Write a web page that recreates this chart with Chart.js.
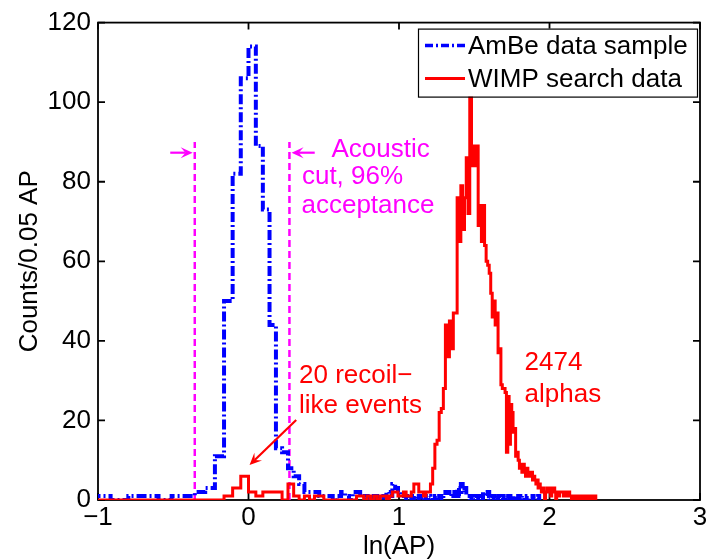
<!DOCTYPE html>
<html>
<head>
<meta charset="utf-8">
<script src="https://cdn.jsdelivr.net/npm/chart.js@4.4.1/dist/chart.umd.min.js"></script>
<style>
  html, body { margin: 0; padding: 0; background: #fff; }
  #wrap { width: 712px; height: 560px; }
</style>
</head>
<body>
<div id="wrap"><canvas id="chart"></canvas></div>
<script>
// histograms use bins 0.05 wide in AP, drawn against ln(AP)
const binAP = 0.05;

// AmBe data sample, counts per bin starting at bin 7 (AP 0.35)
const ambeFirstBin = 7;
const ambeCounts = [
  1, 0, 1, 1, 0, 1, 1,
  2, 3, 11, 50, 82, 106, 114, 89, 73, 44, 13, 12,
  8, 6, 4, 2, 2, 2, 1, 1, 1,
  0, 1, 2, 1, 0, 2, 2, 1, 0, 1, 0, 1, 0, 0, 1, 2, 1, 4, 3, 2, 1, 1,
  0, 1, 0, 1, 0, 1, 0, 1, 0, 1, 0, 0, 1, 0, 1, 0, 1, 2, 2, 1, 2, 2, 1, 3, 1, 4, 2, 3, 1, 1,
  0, 1, 0, 1, 1, 0, 1, 0, 2, 1, 1, 2, 0, 1, 1, 0, 1, 0, 1, 1, 0, 1, 0, 1, 1, 0, 1, 0, 1, 0, 0, 1, 0, 1,
  0, 0, 1, 0, 0, 0, 1, 0, 0, 0, 0, 1, 0, 0, 0, 0, 1, 0
];

// WIMP search data, counts per bin starting at bin 7
const wimpFirstBin = 7;
const wimpCounts = [
  0, 0, 0, 0, 0, 0, 0, 0, 0, 0,
  1, 3, 6, 2, 1, 2, 2, 2, 0, 4,
  1, 0, 1, 0, 1, 1, 0, 0, 0, 0, 0, 0, 0, 0,
  1, 1, 0, 1, 0, 1, 0, 1, 1, 0, 1, 2, 2, 1, 1, 2, 1, 1, 2, 4, 4, 2, 2, 1, 2, 2,
  4, 8, 14, 15, 22, 23, 28, 44, 36, 45, 38, 47, 47,
  76, 65, 79, 68, 76, 86, 72, 106, 84, 89, 84, 89, 69, 74, 65, 74, 64, 60, 59, 57, 52,
  46, 50, 44, 47, 37, 38, 29, 28, 28, 27, 12, 26, 14, 24, 22, 17, 18, 11, 12, 10,
  8, 9, 7, 9, 8, 6, 8, 7, 6, 6, 7, 5, 6, 5, 4, 5, 3, 4, 3,
  2, 3, 2, 0, 2, 3, 2, 2, 3, 1, 2, 2, 3, 2, 0, 2, 2, 1, 2, 2, 2, 2, 1, 2, 2, 1, 2, 1, 2,
  1, 1, 0, 1, 1, 1, 0, 1, 1, 0, 1, 1, 1, 0, 0, 1, 1, 0, 1, 1, 0, 1, 1, 0, 0, 1, 1, 0, 1, 1, 0, 1
];

// acoustic cut edges in ln(AP) and height of the marker lines
const cutEdges = [-0.357, 0.272];
const cutTop = 90;

const xTicks = [-1, 0, 1, 2, 3];
const yTicks = [0, 20, 40, 60, 80, 100, 120];

const FONT = '"Liberation Sans", Arial, sans-serif';

function toSteps(first, counts) {
  const pts = counts.map((c, i) => ({ x: Math.log((first + i) * binAP), y: c }));
  pts.push({ x: Math.log((first + counts.length) * binAP), y: 0 });
  return pts;
}

function arrow(ctx, x0, y0, x1, y1, color) {
  const ang = Math.atan2(y1 - y0, x1 - x0);
  const len = 12, half = 5.5;
  ctx.strokeStyle = color;
  ctx.fillStyle = color;
  ctx.lineWidth = 2.2;
  ctx.beginPath();
  ctx.moveTo(x0, y0);
  ctx.lineTo(x1 - Math.cos(ang) * len * 0.6, y1 - Math.sin(ang) * len * 0.6);
  ctx.stroke();
  ctx.save();
  ctx.translate(x1, y1);
  ctx.rotate(ang);
  ctx.beginPath();
  ctx.moveTo(0, 0);
  ctx.lineTo(-len, -half);
  ctx.lineTo(-len * 0.6, 0);
  ctx.lineTo(-len, half);
  ctx.closePath();
  ctx.fill();
  ctx.restore();
}

// box with inward ticks on all four sides, drawn under the data
const framePlugin = {
  id: 'frame',
  beforeDatasetsDraw(chart) {
    const { ctx, chartArea: a, scales: { x, y } } = chart;
    ctx.save();
    ctx.strokeStyle = '#000';
    ctx.lineWidth = 1.8;
    ctx.strokeRect(a.left, a.top, a.right - a.left, a.bottom - a.top);
    ctx.beginPath();
    xTicks.forEach(v => {
      const px = x.getPixelForValue(v);
      ctx.moveTo(px, a.bottom); ctx.lineTo(px, a.bottom - 7);
      ctx.moveTo(px, a.top); ctx.lineTo(px, a.top + 7);
    });
    yTicks.forEach(v => {
      const py = y.getPixelForValue(v);
      ctx.moveTo(a.left, py); ctx.lineTo(a.left + 7, py);
      ctx.moveTo(a.right, py); ctx.lineTo(a.right - 7, py);
    });
    ctx.stroke();
    ctx.restore();
  }
};

// annotations and legend on top of the data
const notesPlugin = {
  id: 'notes',
  afterDatasetsDraw(chart) {
    const { ctx, chartArea: a, scales: { x, y } } = chart;
    const X = v => x.getPixelForValue(v);
    const Y = v => y.getPixelForValue(v);
    ctx.save();

    // cut arrows
    arrow(ctx, X(-0.52), Y(87.3), X(-0.371), Y(87.3), '#ff00ff');
    arrow(ctx, X(0.44), Y(87.3), X(0.286), Y(87.3), '#ff00ff');
    // recoil arrow
    arrow(ctx, X(0.317), Y(20.1), X(0.007), Y(8.8), '#ff0000');

    ctx.font = '26px ' + FONT;
    ctx.textAlign = 'left';
    ctx.textBaseline = 'alphabetic';
    ctx.fillStyle = '#ff00ff';
    ctx.fillText('Acoustic', X(0.551), Y(86.3));
    ctx.fillText('cut, 96%', X(0.355), Y(79.5));
    ctx.fillText('acceptance', X(0.352), Y(72.1));
    ctx.fillStyle = '#ff0000';
    ctx.fillText('20 recoil\u2212', X(0.336), Y(29.5));
    ctx.fillText('like events', X(0.336), Y(21.9));
    ctx.fillText('2474', X(1.834), Y(32.7));
    ctx.fillText('alphas', X(1.834), Y(24.7));

    // legend box
    const bx = a.right - 282, by = a.top + 6, bw = 279, bh = 68;
    ctx.fillStyle = '#fff';
    ctx.fillRect(bx, by, bw, bh);
    ctx.strokeStyle = '#000';
    ctx.lineWidth = 1.2;
    ctx.strokeRect(bx + 0.5, by + 0.5, bw, bh);
    ctx.lineWidth = 3.5;
    ctx.strokeStyle = '#0000ff';
    ctx.setLineDash([8, 3, 2, 3]);
    ctx.beginPath(); ctx.moveTo(bx + 7, by + 17); ctx.lineTo(bx + 47, by + 17); ctx.stroke();
    ctx.setLineDash([]);
    ctx.lineWidth = 3;
    ctx.strokeStyle = '#ff0000';
    ctx.beginPath(); ctx.moveTo(bx + 7, by + 50); ctx.lineTo(bx + 47, by + 50); ctx.stroke();
    ctx.fillStyle = '#000';
    ctx.textBaseline = 'middle';
    ctx.fillText('AmBe data sample', bx + 50, by + 18);
    ctx.fillText('WIMP search data', bx + 50, by + 51);
    ctx.restore();
  }
};

Chart.defaults.font.family = FONT;
Chart.defaults.font.size = 26;
Chart.defaults.color = '#000';

new Chart(document.getElementById('chart'), {
  type: 'line',
  data: {
    datasets: [
      {
        label: 'WIMP search data',
        data: toSteps(wimpFirstBin, wimpCounts),
        borderColor: '#ff0000',
        borderWidth: 3,
        stepped: true,
        pointRadius: 0,
        fill: false
      },
      {
        label: 'AmBe data sample',
        data: toSteps(ambeFirstBin, ambeCounts),
        borderColor: '#0000ff',
        borderWidth: 4,
        borderDash: [10, 3, 2, 3],
        stepped: true,
        pointRadius: 0,
        fill: false
      },
      ...cutEdges.map(c => ({
        label: 'cut',
        data: [{ x: c, y: 0 }, { x: c, y: cutTop }],
        borderColor: '#ff00ff',
        borderWidth: 2.5,
        borderDash: [7, 4],
        pointRadius: 0,
        fill: false
      }))
    ]
  },
  options: {
    responsive: true,
    maintainAspectRatio: false,
    animation: false,
    layout: { padding: { left: 0, top: 22, right: 12, bottom: 0 } },
    plugins: {
      legend: { display: false },
      tooltip: { enabled: false }
    },
    scales: {
      x: {
        type: 'linear',
        min: -1,
        max: 3,
        grid: { display: false, drawTicks: false },
        border: { display: false },
        afterBuildTicks: s => { s.ticks = xTicks.map(v => ({ value: v })); },
        afterFit: s => { s.height = 60; },
        ticks: {
          padding: 2,
          maxRotation: 0,
          callback: v => String(v).replace('-', '\u2212')
        },
        title: {
          display: true,
          text: 'ln(AP)',
          font: { size: 26, lineHeight: 1 },
          padding: { top: 0, bottom: 0 }
        }
      },
      y: {
        min: 0,
        max: 120,
        grid: { display: false, drawTicks: false },
        border: { display: false },
        afterBuildTicks: s => { s.ticks = yTicks.map(v => ({ value: v })); },
        afterFit: s => { s.width = 98; },
        ticks: { padding: 7 },
        title: {
          display: true,
          text: 'Counts/0.05 AP',
          font: { size: 26 },
          padding: { top: 14, bottom: 0 }
        }
      }
    }
  },
  plugins: [framePlugin, notesPlugin]
});
</script>
</body>
</html>
